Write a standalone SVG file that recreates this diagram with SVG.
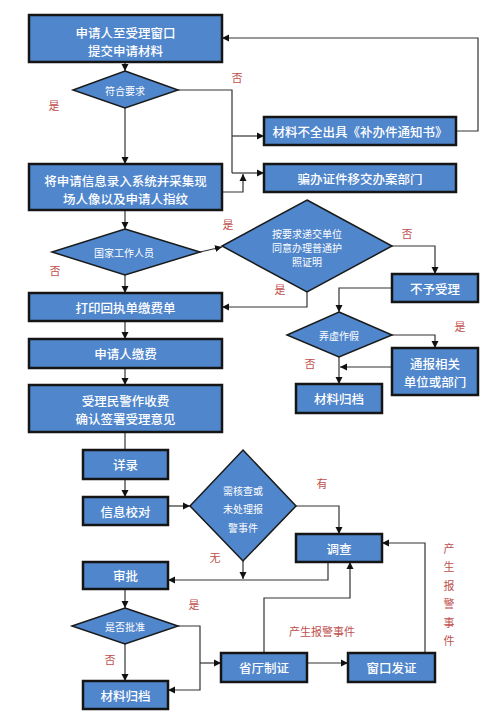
<svg xmlns="http://www.w3.org/2000/svg" width="500" height="718" viewBox="0 0 500 718">
<style>
.b{fill:#4f86cc;stroke:#151515;stroke-width:2.5}
.d{fill:#4f86cc;stroke:#1a1a1a;stroke-width:1.5}
.t{font-family:"Noto Sans CJK SC","Liberation Sans",sans-serif;font-size:12.5px;font-weight:500;fill:#fff;text-anchor:middle;dominant-baseline:central}
.s{font-family:"Noto Sans CJK SC","Liberation Sans",sans-serif;font-size:10px;fill:#fff;text-anchor:middle;dominant-baseline:central}
.r{font-family:"Noto Sans CJK SC","Liberation Serif",serif;font-size:11px;fill:#c0504d;text-anchor:middle;dominant-baseline:central}
.c{fill:none;stroke:#333;stroke-width:1.2}
</style>
<defs>
<marker id="a" markerUnits="userSpaceOnUse" markerWidth="8" markerHeight="8" refX="7" refY="4" orient="auto"><path d="M0,0.5 L7,4 L0,7.5 z" fill="#111"/></marker>
</defs>
<rect width="500" height="718" fill="#fff"/>
<g id="connectors">
<path class="c" d="M125,62 V71" marker-end="url(#a)"/>
<path class="c" d="M125,108 V164" marker-end="url(#a)"/>
<path class="c" d="M178,90 H232 V173"/>
<path class="c" d="M232,136 H264" marker-end="url(#a)"/>
<path class="c" d="M232,173 H264" marker-end="url(#a)"/>
<path class="c" d="M222,192 H243 V174" marker-end="url(#a)"/>
<path class="c" d="M456,131 H478 V38 H222" marker-end="url(#a)"/>
<path class="c" d="M125,210 V229" marker-end="url(#a)"/>
<path class="c" d="M200,252 L222,247" marker-end="url(#a)"/>
<path class="c" d="M125,275 V293" marker-end="url(#a)"/>
<path class="c" d="M307,292 V307 H222" marker-end="url(#a)"/>
<path class="c" d="M392,246 H435 V274" marker-end="url(#a)"/>
<path class="c" d="M392,288 H339 V312" marker-end="url(#a)"/>
<path class="c" d="M392,335 H435 V348" marker-end="url(#a)"/>
<path class="c" d="M392,367 H340" marker-end="url(#a)"/>
<path class="c" d="M339,357 V384" marker-end="url(#a)"/>
<path class="c" d="M125,321 V339" marker-end="url(#a)"/>
<path class="c" d="M125,368 V385" marker-end="url(#a)"/>
<path class="c" d="M125,432 V450"/>
<path class="c" d="M125,479 V497" marker-end="url(#a)"/>
<path class="c" d="M168,506 H190" marker-end="url(#a)"/>
<path class="c" d="M296,506 H339 V534" marker-end="url(#a)"/>
<path class="c" d="M243,561 V579" marker-end="url(#a)"/>
<path class="c" d="M328,562 V580 H168" marker-end="url(#a)"/>
<path class="c" d="M125,589 V608" marker-end="url(#a)"/>
<path class="c" d="M178,626 H200 V690 H168" marker-end="url(#a)"/>
<path class="c" d="M200,663 H221" marker-end="url(#a)"/>
<path class="c" d="M125,644 V681" marker-end="url(#a)"/>
<path class="c" d="M307,663 H348" marker-end="url(#a)"/>
<path class="c" d="M264,653 V598 H350 V562" marker-end="url(#a)"/>
<path class="c" d="M425,653 V543 H382" marker-end="url(#a)"/>
</g>
<g id="n1"><rect class="b" x="29" y="15" width="193" height="47"/><text class="t" x="125.5" y="32">申请人至受理窗口</text><text class="t" x="125.5" y="50">提交申请材料</text></g>
<g id="n2"><polygon class="d" points="125,71 178,90 125,108 73,90"/><text class="s" x="125" y="90">符合要求</text></g>
<g id="n3"><rect class="b" x="264" y="117" width="192" height="28"/><text class="t" x="360" y="131">材料不全出具《补办件通知书》</text></g>
<g id="n4"><rect class="b" x="264" y="164" width="192" height="28"/><text class="t" x="360" y="178">骗办证件移交办案部门</text></g>
<g id="n5"><rect class="b" x="29" y="164" width="193" height="46"/><text class="t" x="125.5" y="180">将申请信息录入系统并采集现</text><text class="t" x="125.5" y="198">场人像以及申请人指纹</text></g>
<g id="n6"><polygon class="d" points="125,229 200,252 125,275 52,252"/><text class="s" x="124" y="252">国家工作人员</text></g>
<g id="n7"><polygon class="d" points="307,200 392,246 307,292 222,246"/><text class="s" x="307" y="233">按要求递交单位</text><text class="s" x="307" y="247">同意办理普通护</text><text class="s" x="307" y="261">照证明</text></g>
<g id="n8"><rect class="b" x="392" y="274" width="86" height="28"/><text class="t" x="435" y="288">不予受理</text></g>
<g id="n9"><polygon class="d" points="339,312 392,335 339,357 287,335"/><text class="s" x="339" y="335">弄虚作假</text></g>
<g id="n10"><rect class="b" x="392" y="348" width="86" height="47"/><text class="t" x="435" y="363">通报相关</text><text class="t" x="435" y="381">单位或部门</text></g>
<g id="n11"><rect class="b" x="296" y="384" width="86" height="29"/><text class="t" x="339" y="398.5">材料归档</text></g>
<g id="n12"><rect class="b" x="29" y="293" width="193" height="28"/><text class="t" x="125.5" y="307">打印回执单缴费单</text></g>
<g id="n13"><rect class="b" x="29" y="339" width="193" height="29"/><text class="t" x="125.5" y="353.5">申请人缴费</text></g>
<g id="n14"><rect class="b" x="29" y="385" width="193" height="47"/><text class="t" x="125.5" y="400">受理民警作收费</text><text class="t" x="125.5" y="418">确认签署受理意见</text></g>
<g id="n15"><rect class="b" x="83" y="450" width="85" height="29"/><text class="t" x="125.5" y="464.5">详录</text></g>
<g id="n16"><rect class="b" x="83" y="497" width="85" height="28"/><text class="t" x="125.5" y="511">信息校对</text></g>
<g id="n17"><polygon class="d" points="243,450 296,506 243,561 190,506"/><text class="s" x="243" y="490">需核查或</text><text class="s" x="243" y="508">未处理报</text><text class="s" x="243" y="527">警事件</text></g>
<g id="n18"><rect class="b" x="296" y="534" width="86" height="28"/><text class="t" x="339" y="548">调查</text></g>
<g id="n19"><rect class="b" x="83" y="562" width="85" height="27"/><text class="t" x="125.5" y="575.5">审批</text></g>
<g id="n20"><polygon class="d" points="125,608 178,626 125,644 72,626"/><text class="s" x="125" y="626">是否批准</text></g>
<g id="n21"><rect class="b" x="83" y="681" width="85" height="28"/><text class="t" x="125.5" y="695">材料归档</text></g>
<g id="n22"><rect class="b" x="221" y="653" width="86" height="29"/><text class="t" x="264" y="667.5">省厅制证</text></g>
<g id="n23"><rect class="b" x="348" y="653" width="87" height="29"/><text class="t" x="391.5" y="667.5">窗口发证</text></g>
<g id="labels">
<text class="r" x="54" y="105">是</text>
<text class="r" x="237" y="77">否</text>
<text class="r" x="228" y="224">是</text>
<text class="r" x="55" y="270">否</text>
<text class="r" x="280" y="289">是</text>
<text class="r" x="407" y="233">否</text>
<text class="r" x="460" y="326">是</text>
<text class="r" x="310" y="363">否</text>
<text class="r" x="322" y="483">有</text>
<text class="r" x="215" y="557">无</text>
<text class="r" x="194" y="604">是</text>
<text class="r" x="110" y="659">否</text>
<text class="r" x="322" y="631">产生报警事件</text>
<text class="r" x="449" y="548">产</text>
<text class="r" x="449" y="566">生</text>
<text class="r" x="449" y="585">报</text>
<text class="r" x="449" y="603">警</text>
<text class="r" x="449" y="622">事</text>
<text class="r" x="449" y="640">件</text>
</g>
</svg>
